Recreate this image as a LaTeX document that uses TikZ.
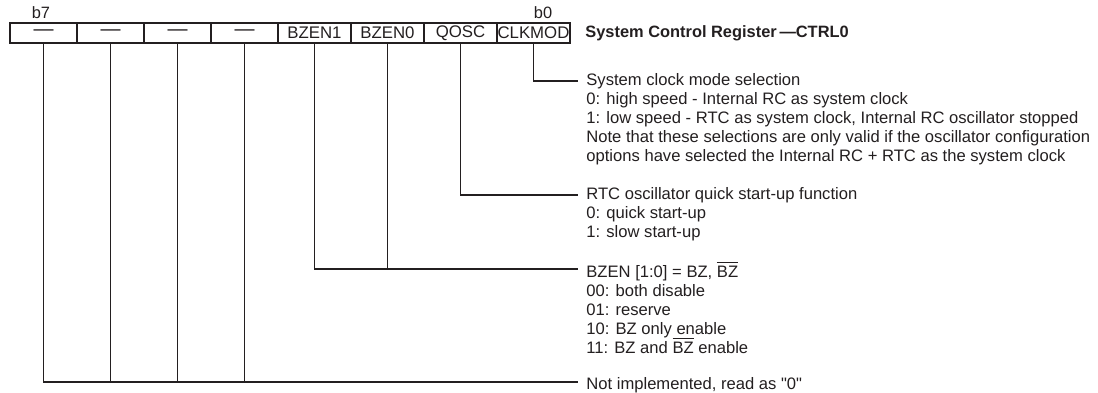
\documentclass[tikz,border=0pt]{standalone}
\usepackage{fontspec}
\setmainfont{Liberation Sans}[Ligatures=TeXOff]
\definecolor{ink}{RGB}{35,31,32}
\newcommand\toprule{\rule{0pt}{7.4pt}}
\tikzset{
	cell/.style={draw=ink,line width=0.6pt,minimum height=10pt,inner sep=0pt,text=ink,font=\fontsize{8.4}{9}\selectfont},
	nobit/.style={cell,minimum width=33.5pt,font=\fontsize{10}{10}\selectfont},
	bitlbl/.style={inner sep=0pt,text=ink,font=\fontsize{8.2}{9}\selectfont},
	desc/.style={anchor=north west,align=left,inner sep=0pt,text=ink,font=\fontsize{8.3}{9.5}\selectfont,execute at begin node=\toprule},
	wire/.style={draw=ink,line width=0.6pt}
}
\begin{document}
\begin{tikzpicture}[x=0.5pt,y=0.5pt]
	\useasboundingbox (0,0) rectangle (1098,-392);
	% register cells b7 ... b0
		\node[nobit] (r7) at (43.5,-33) {—};
		\node[nobit] (r6) at (110.5,-33) {—};
		\node[nobit] (r5) at (177.5,-33) {—};
		\node[nobit] (r4) at (244.5,-33) {—};
		\node[cell,minimum width=36.5pt] (r3) at (314.5,-33) {BZEN1};
		\node[cell,minimum width=36.5pt] (r2) at (387.5,-33) {BZEN0};
		\node[cell,minimum width=36.5pt] (r1) at (460.5,-33) {QOSC};
		\node[cell,minimum width=36.5pt] (r0) at (533.5,-33) {CLKMOD};
	\node[bitlbl] (lb7) at (41,-13) {b7};
	\node[bitlbl] (lb0) at (543,-13) {b0};
	\node[anchor=west,inner sep=0pt,text=ink,font=\fontsize{8.2}{9}\selectfont\bfseries] (title) at (585,-33) {System Control Register\,—CTRL0};
	% ends of the leaders
		\coordinate (e0) at (578,-81);
		\coordinate (e1) at (578,-195);
		\coordinate (e2) at (578,-269);
		\coordinate (e3) at (578,-382);
	\draw[wire] (r0.south) |- (e0);
	\draw[wire] (r1.south) |- (e1);
	\draw[wire] (r3.south) |- (e2);
	\draw[wire] (r2.south) -- (r2.south |- e2);
	\draw[wire] (r7.south) |- (e3);
	\foreach \b in {6,5,4}
		\draw[wire] (r\b.south) -- (r\b.south |- e3);
	% descriptions
	\node[desc] (d0) at ([xshift=4pt,yshift=3.9pt]e0) {System clock mode selection\\0: high speed - Internal RC as system clock\\1: low speed - RTC as system clock, Internal RC oscillator stopped\\Note that these selections are only valid if the oscillator configuration\\options have selected the Internal RC + RTC as the system clock};
	\node[desc] (d1) at ([xshift=4pt,yshift=3.9pt]e1) {RTC oscillator quick start-up function\\0: quick start-up\\1: slow start-up};
	\node[desc] (d2) at ([xshift=4pt,yshift=3.9pt]e2) {BZEN [1:0] = BZ, $\overline{\mbox{BZ}}$\\00: both disable\\01: reserve\\10: BZ only enable\\11: BZ and $\overline{\mbox{BZ}}$ enable};
	\node[desc] (d3) at ([xshift=4pt,yshift=3.9pt]e3) {Not implemented, read as "0"};
\end{tikzpicture}
\end{document}
